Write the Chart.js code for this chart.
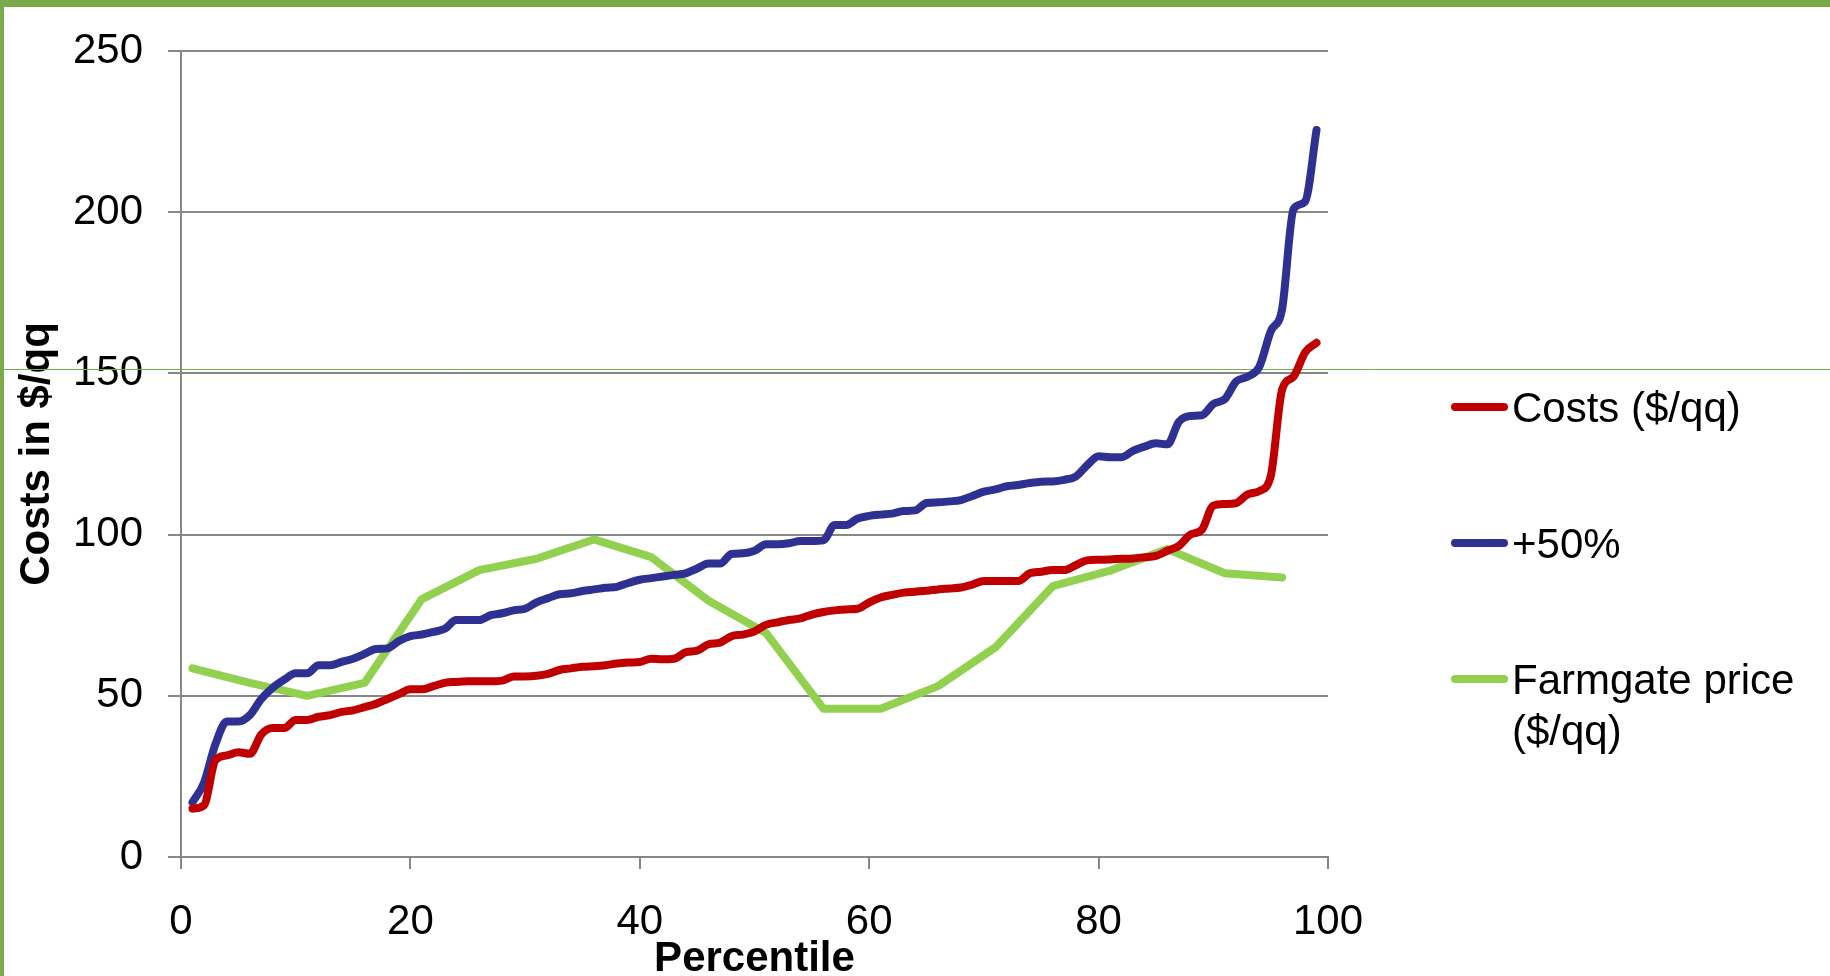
<!DOCTYPE html>
<html>
<head>
<meta charset="utf-8">
<script src="https://cdn.jsdelivr.net/npm/chart.js@4.4.1/dist/chart.umd.min.js"></script>
<style>
  html, body { margin: 0; padding: 0; background: #fff; overflow: hidden; }
  canvas { display: block; }
</style>
</head>
<body>
<canvas id="c" width="1830" height="976"></canvas>
<script>
// Percentile positions of the cost curves
const percentiles = [
  1, 2, 3, 4, 5, 6, 7, 8, 9, 10, 11, 12, 13, 14, 15, 16, 17, 18, 19, 20,
  21, 22, 23, 24, 25, 26, 27, 28, 29, 30, 31, 32, 33, 34, 35, 36, 37, 38, 39, 40,
  41, 42, 43, 44, 45, 46, 47, 48, 49, 50, 51, 52, 53, 54, 55, 56, 57, 58, 59, 60,
  61, 62, 63, 64, 65, 66, 67, 68, 69, 70, 71, 72, 73, 74, 75, 76, 77, 78, 79, 80,
  81, 82, 83, 84, 85, 86, 87, 88, 89, 90, 91, 92, 93, 94, 95, 96, 97, 98, 99
];

// Production costs ($/qq)
const costs = [
  15, 16, 30, 31.5, 32.5, 32, 38, 40, 40, 42.5, 42.5, 43.5, 44, 45, 45.5, 46.5, 47.5, 49, 50.5, 52,
  52, 53, 54, 54.3, 54.5, 54.5, 54.5, 54.7, 56, 56, 56.2, 56.8, 58, 58.5, 59, 59.2, 59.5, 60, 60.3, 60.5,
  61.5, 61.3, 61.5, 63.5, 64, 66, 66.5, 68.5, 69, 70, 72, 72.8, 73.5, 74, 75.2, 76, 76.5, 76.8, 77, 79,
  80.5, 81.3, 82, 82.3, 82.6, 83, 83.3, 83.6, 84.5, 85.6, 85.6, 85.6, 85.6, 88, 88.5, 89, 89, 90.5, 92, 92.2,
  92.3, 92.5, 92.6, 93, 93.4, 95, 96.5, 100, 101.5, 109, 109.5, 109.8, 112.5, 113.5, 118, 145, 149, 156.5, 159.5
];

// Costs plus 50 %
const plus50 = [
  17, 23, 35, 42, 42, 44, 49, 52.5, 55, 57, 57, 59.5, 59.5, 60.5, 61.5, 63, 64.5, 64.7, 67, 68.5,
  69, 69.8, 70.8, 73.5, 73.5, 73.5, 75, 75.6, 76.5, 77, 79, 80.3, 81.5, 81.8, 82.5, 83, 83.5, 83.8, 85, 86,
  86.5, 87, 87.5, 88, 89.5, 91, 91, 94, 94.2, 95, 97, 97, 97.3, 98, 98, 98.2, 103, 103, 105, 105.8,
  106.2, 106.5, 107.3, 107.5, 109.8, 110, 110.3, 110.7, 112, 113.3, 114, 115, 115.4, 116, 116.4, 116.5, 117, 118, 121.5, 124.3,
  124, 124, 126, 127.3, 128.3, 128, 135, 136.8, 137, 140.5, 142, 147.5, 149, 152, 163, 170, 201, 203.3, 225.5
];

// Farmgate price ($/qq), sampled every five percentiles
const farmgatePercentiles = [1, 6, 11, 16, 21, 26, 31, 36, 41, 46, 51, 56, 61, 66, 71, 76, 81, 86, 91, 96];
const farmgatePrice = [58.5, 54, 50, 54, 80, 89, 92.5, 98.5, 93, 79.5, 69.5, 46, 46, 53, 65, 84, 88.8, 95.5, 88, 86.7];

// Axis ticks
const xTicks = [0, 20, 40, 60, 80, 100];
const yTicks = [0, 50, 100, 150, 200, 250];

// Legend entries (one array of text lines per series)
const legendText = [['Costs ($/qq)'], ['+50%'], ['Farmgate price', '($/qq)']];

const FONT = '"Liberation Sans", Arial, sans-serif';
const GRID = '#878787';
const ACCENT = '#7BAA4C';

const toPoints = (xs, ys) => xs.map((x, i) => ({ x: x, y: ys[i] }));

// Slide frame: green band on top and left, plus a thin rule across the page
const framePlugin = {
  id: 'frame',
  beforeDraw(chart) {
    const ctx = chart.ctx;
    ctx.save();
    ctx.fillStyle = '#ffffff';
    ctx.fillRect(0, 0, chart.width, chart.height);
    ctx.fillStyle = ACCENT;
    ctx.fillRect(0, 0, chart.width, 7);
    ctx.fillRect(0, 0, 4, chart.height);
    ctx.restore();
  },
  beforeDatasetsDraw(chart) {
    const ctx = chart.ctx;
    ctx.save();
    ctx.strokeStyle = ACCENT;
    ctx.lineWidth = 1;
    ctx.beginPath();
    ctx.moveTo(4, 369.5);
    ctx.lineTo(chart.width, 369.5);
    ctx.stroke();
    ctx.restore();
  }
};

// Legend on the right, one entry per dataset
const sideLegend = {
  id: 'sideLegend',
  afterDraw(chart) {
    const ctx = chart.ctx;
    const x0 = 1455, x1 = 1504, tx = 1512;
    const rows = [407, 543, 679];
    ctx.save();
    ctx.font = '42px ' + FONT;
    ctx.textAlign = 'left';
    ctx.textBaseline = 'middle';
    chart.data.datasets.forEach((ds, i) => {
      const y = rows[i];
      ctx.strokeStyle = ds.borderColor;
      ctx.lineWidth = 8;
      ctx.lineCap = 'round';
      ctx.beginPath();
      ctx.moveTo(x0, y);
      ctx.lineTo(x1, y);
      ctx.stroke();
      ctx.fillStyle = '#000';
      legendText[i].forEach((line, k) => ctx.fillText(line, tx, y + 3 + k * 51));
    });
    ctx.restore();
  }
};

new Chart(document.getElementById('c'), {
  type: 'line',
  data: {
    datasets: [
      {
        label: 'Costs ($/qq)',
        data: toPoints(percentiles, costs),
        borderColor: '#C00000',
        tension: 0.4,
        cubicInterpolationMode: 'monotone'
      },
      {
        label: '+50%',
        data: toPoints(percentiles, plus50),
        borderColor: '#2E3192',
        tension: 0.4,
        cubicInterpolationMode: 'monotone'
      },
      {
        label: 'Farmgate price ($/qq)',
        data: toPoints(farmgatePercentiles, farmgatePrice),
        borderColor: '#92D050',
        tension: 0
      }
    ]
  },
  options: {
    responsive: false,
    animation: false,
    devicePixelRatio: 1,
    layout: { padding: { left: 0, top: 51, right: 502, bottom: -9 } },
    elements: {
      point: { radius: 0 },
      line: { borderWidth: 8, borderCapStyle: 'round', borderJoinStyle: 'round', fill: false }
    },
    plugins: {
      legend: { display: false },
      tooltip: { enabled: false }
    },
    scales: {
      x: {
        type: 'linear',
        min: 0,
        max: 100,
        afterBuildTicks: s => { s.ticks = xTicks.map(v => ({ value: v })); },
        afterFit: s => { s.height = 128; },
        ticks: { font: { family: FONT, size: 42 }, color: '#000', padding: 28, maxRotation: 0 },
        grid: { drawOnChartArea: false, drawTicks: true, tickLength: 12, color: GRID, lineWidth: 2 },
        border: { display: true, color: GRID, width: 2 },
        title: {
          display: true,
          text: 'Percentile',
          font: { family: FONT, size: 42, weight: 'bold' },
          color: '#000',
          padding: { top: 0, bottom: 0 }
        }
      },
      y: {
        min: 0,
        max: 250,
        afterBuildTicks: s => { s.ticks = yTicks.map(v => ({ value: v })); },
        afterFit: s => { s.width = 181; },
        ticks: { font: { family: FONT, size: 42 }, color: '#000', padding: 25 },
        grid: { drawTicks: true, tickLength: 13, color: GRID, lineWidth: 2 },
        border: { display: true, color: GRID, width: 2 },
        title: {
          display: true,
          text: 'Costs in $/qq',
          font: { family: FONT, size: 42, weight: 'bold' },
          color: '#000',
          padding: { top: 12, bottom: 0 }
        }
      }
    }
  },
  plugins: [framePlugin, sideLegend]
});
</script>
</body>
</html>
